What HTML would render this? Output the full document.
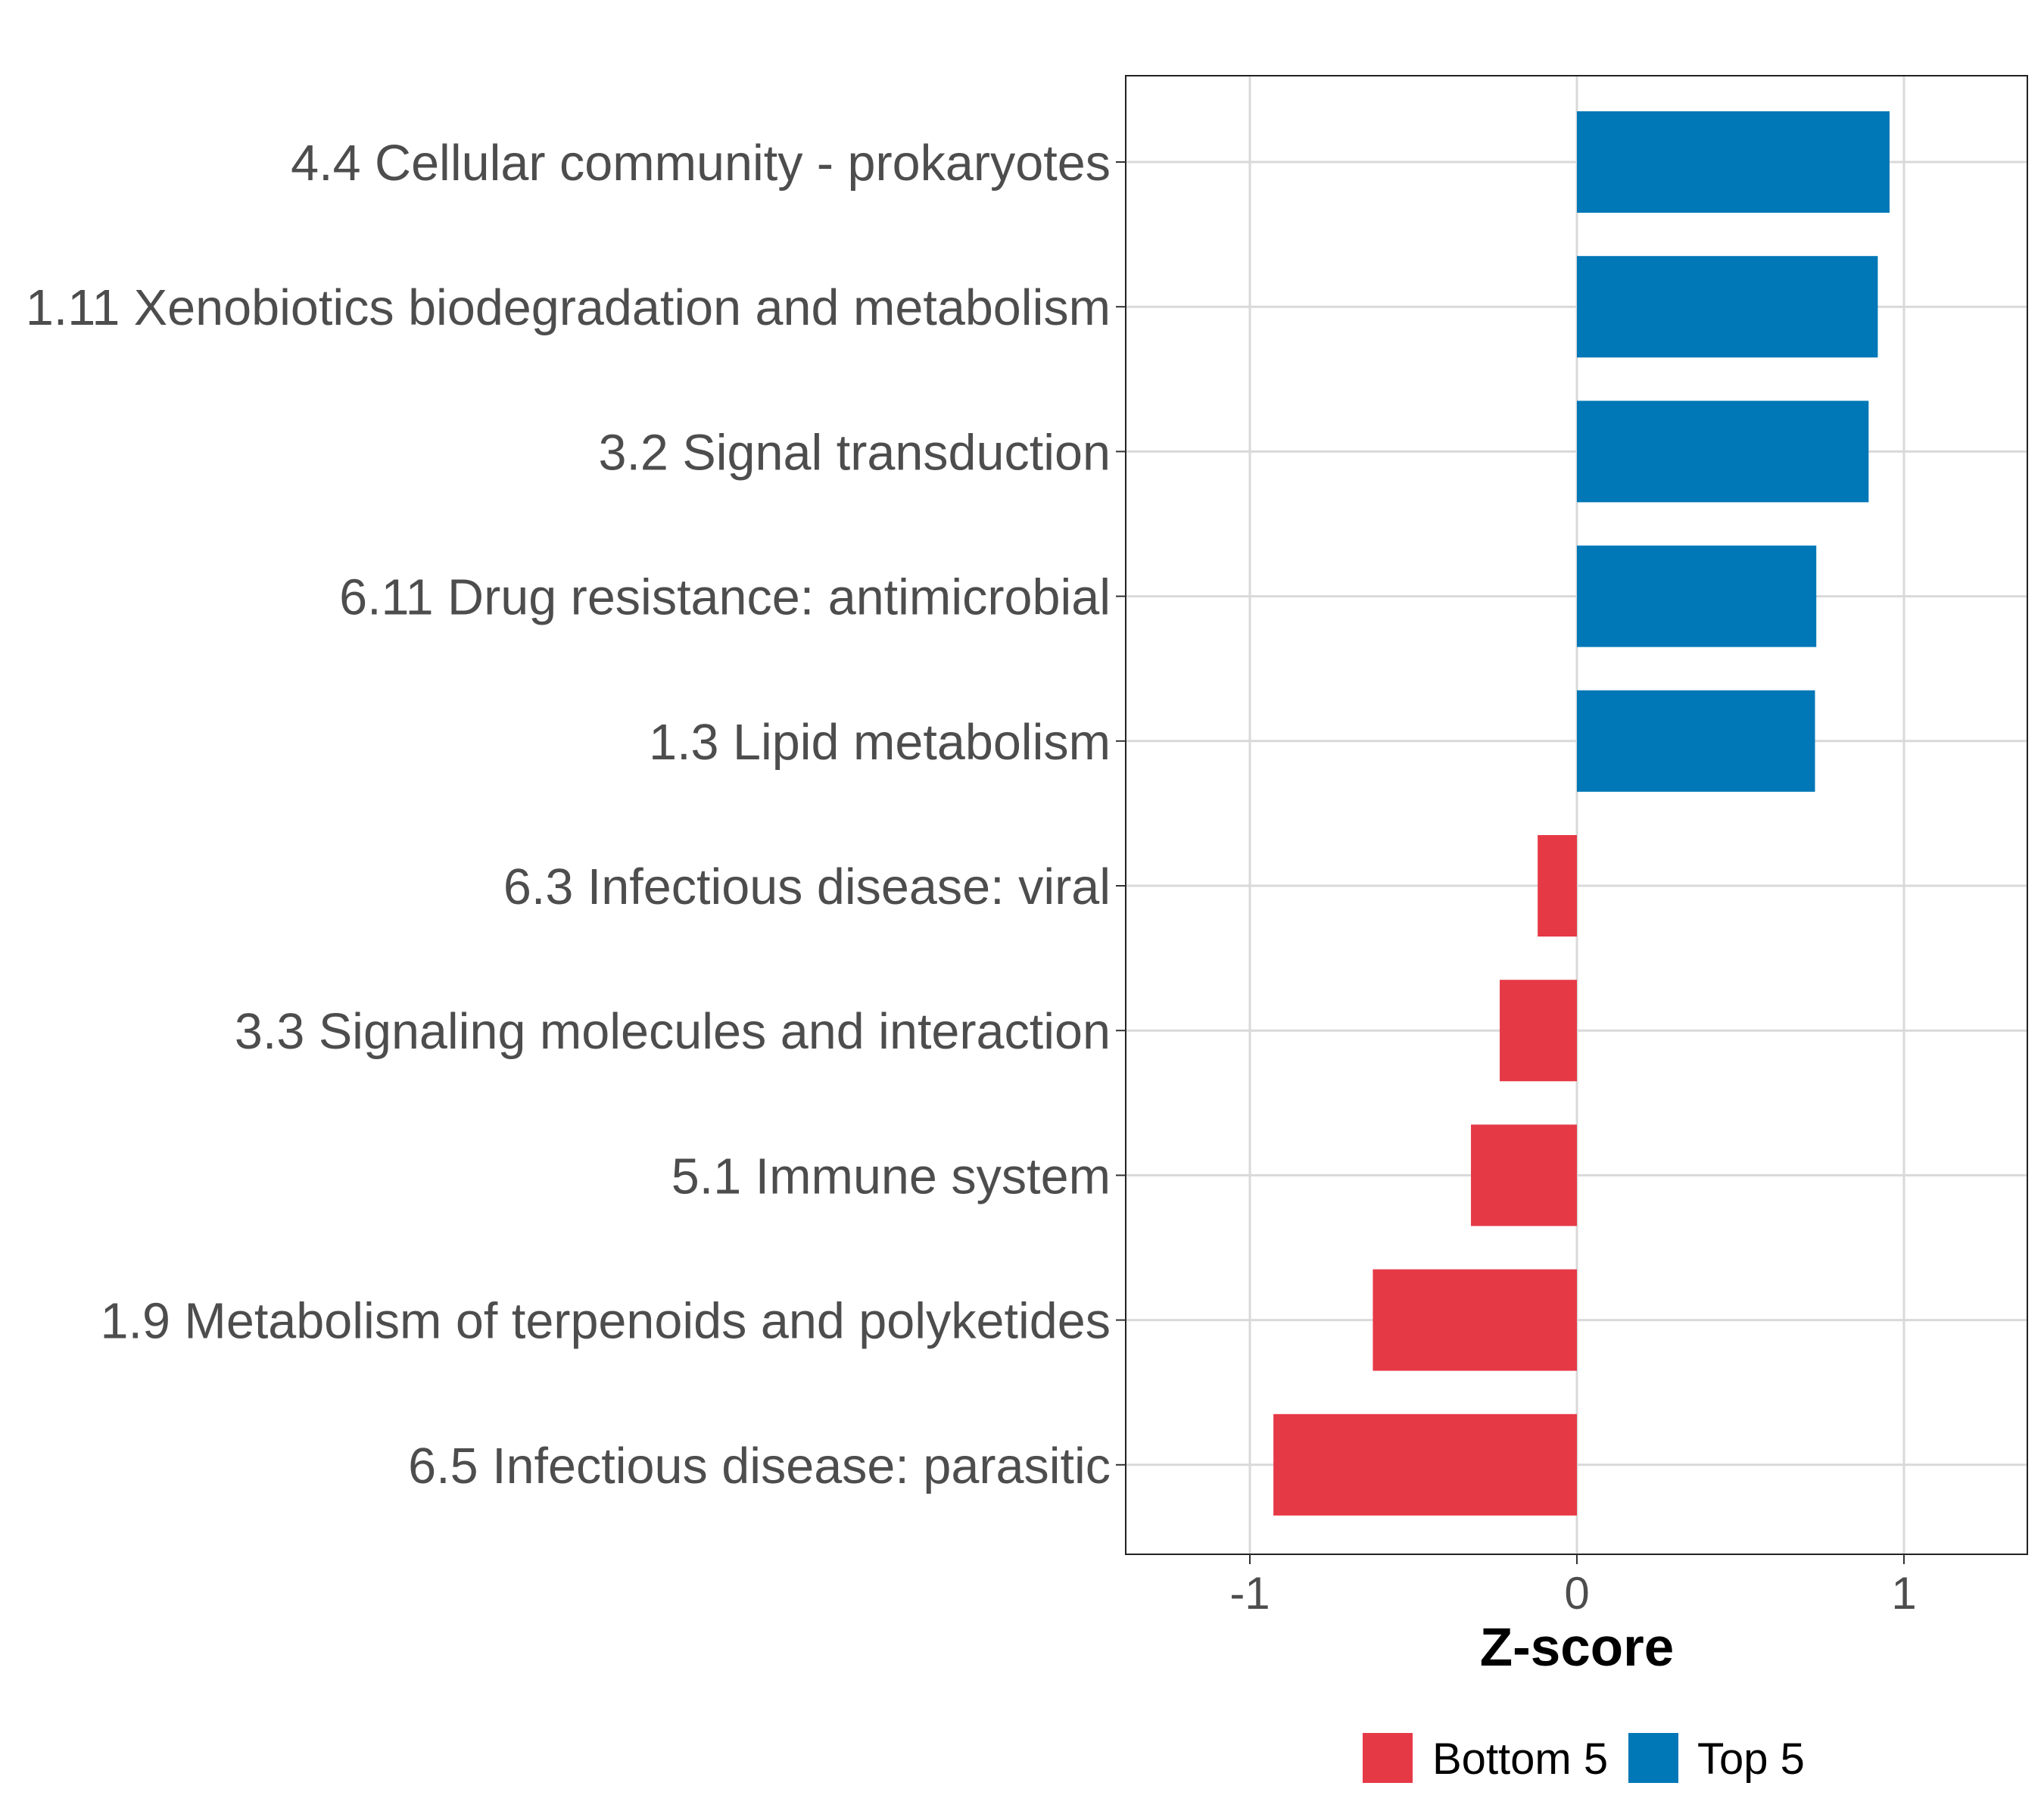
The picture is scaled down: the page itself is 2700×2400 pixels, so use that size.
<!DOCTYPE html>
<html><head><meta charset="utf-8"><style>
body{margin:0;background:#fff;}
svg{display:block;font-family:"Liberation Sans",sans-serif;}
</style></head><body>
<svg id="chart" width="2700" height="2400" viewBox="0 0 2700 2400">
<rect x="0" y="0" width="2700" height="2400" fill="#fff"/>
<g id="grid"></g>
<g id="bars"></g>
<rect x="1487" y="100" width="1191" height="1953" fill="none" stroke="#222" stroke-width="2"/>
<g id="ylabels"></g>
<g id="xticks"></g>
<text x="2083" y="2200" font-size="71" font-weight="bold" text-anchor="middle" fill="#000">Z-score</text>
<g>
<rect x="1800" y="2289" width="66" height="66" fill="#E63946"/>
<text x="1892" y="2343" font-size="58" fill="#000">Bottom 5</text>
<rect x="2151" y="2289" width="66" height="66" fill="#0077B6"/>
<text x="2242" y="2343" font-size="58" fill="#000">Top 5</text>
</g>
</svg>
<script>
const categories=["4.4 Cellular community - prokaryotes","1.11 Xenobiotics biodegradation and metabolism","3.2 Signal transduction","6.11 Drug resistance: antimicrobial","1.3 Lipid metabolism","6.3 Infectious disease: viral","3.3 Signaling molecules and interaction","5.1 Immune system","1.9 Metabolism of terpenoids and polyketides","6.5 Infectious disease: parasitic"];
const values=[0.956,0.92,0.892,0.732,0.728,-0.12,-0.236,-0.324,-0.624,-0.928];
const groups=["Top 5","Top 5","Top 5","Top 5","Top 5","Bottom 5","Bottom 5","Bottom 5","Bottom 5","Bottom 5"];
const xTicks=[-1,0,1];
const xTickLabels=["-1","0","1"];
const NS="http://www.w3.org/2000/svg";
const xs=v=>2083+v*432;
const ys=i=>214+i*191.2;
const colors={"Top 5":"#0077B6","Bottom 5":"#E63946"};
function mk(t,a,p){const e=document.createElementNS(NS,t);for(const k in a)e.setAttribute(k,a[k]);p.appendChild(e);return e;}
const grid=document.getElementById('grid'),bars=document.getElementById('bars'),yl=document.getElementById('ylabels'),xt=document.getElementById('xticks');
xTicks.forEach((t,i)=>{
 const g=mk('line',{x1:xs(t),x2:xs(t),y1:100,y2:2053,stroke:'#d9d9d9','stroke-width':3},grid);
 
 
 const tk=mk('line',{x1:xs(t),x2:xs(t),y1:2053,y2:2066,stroke:'#333','stroke-width':2},xt);
 
 
 const tl=mk('text',{x:xs(t),y:2125,'font-size':60,'text-anchor':'middle',fill:'#4d4d4d'},xt);
 tl.textContent=xTickLabels[i];
 
 
});
categories.forEach((c,i)=>{
 const y=ys(i);
 const g=mk('line',{x1:1487,x2:2678,y1:y,y2:y,stroke:'#d9d9d9','stroke-width':3},grid);
 
 
 const v=values[i];
 const b=mk('rect',{x:Math.min(xs(0),xs(v)),y:y-67,width:Math.abs(xs(v)-xs(0)),height:134,fill:colors[groups[i]]},bars);
 
 
 const tk=mk('line',{x1:1474,x2:1487,y1:y,y2:y,stroke:'#333','stroke-width':2},yl);
 
 
 const t=mk('text',{x:1467,y:y+24,'font-size':66.5,'text-anchor':'end',fill:'#4d4d4d'},yl);
 t.textContent=c;
 
 
});
</script>
</body></html>
